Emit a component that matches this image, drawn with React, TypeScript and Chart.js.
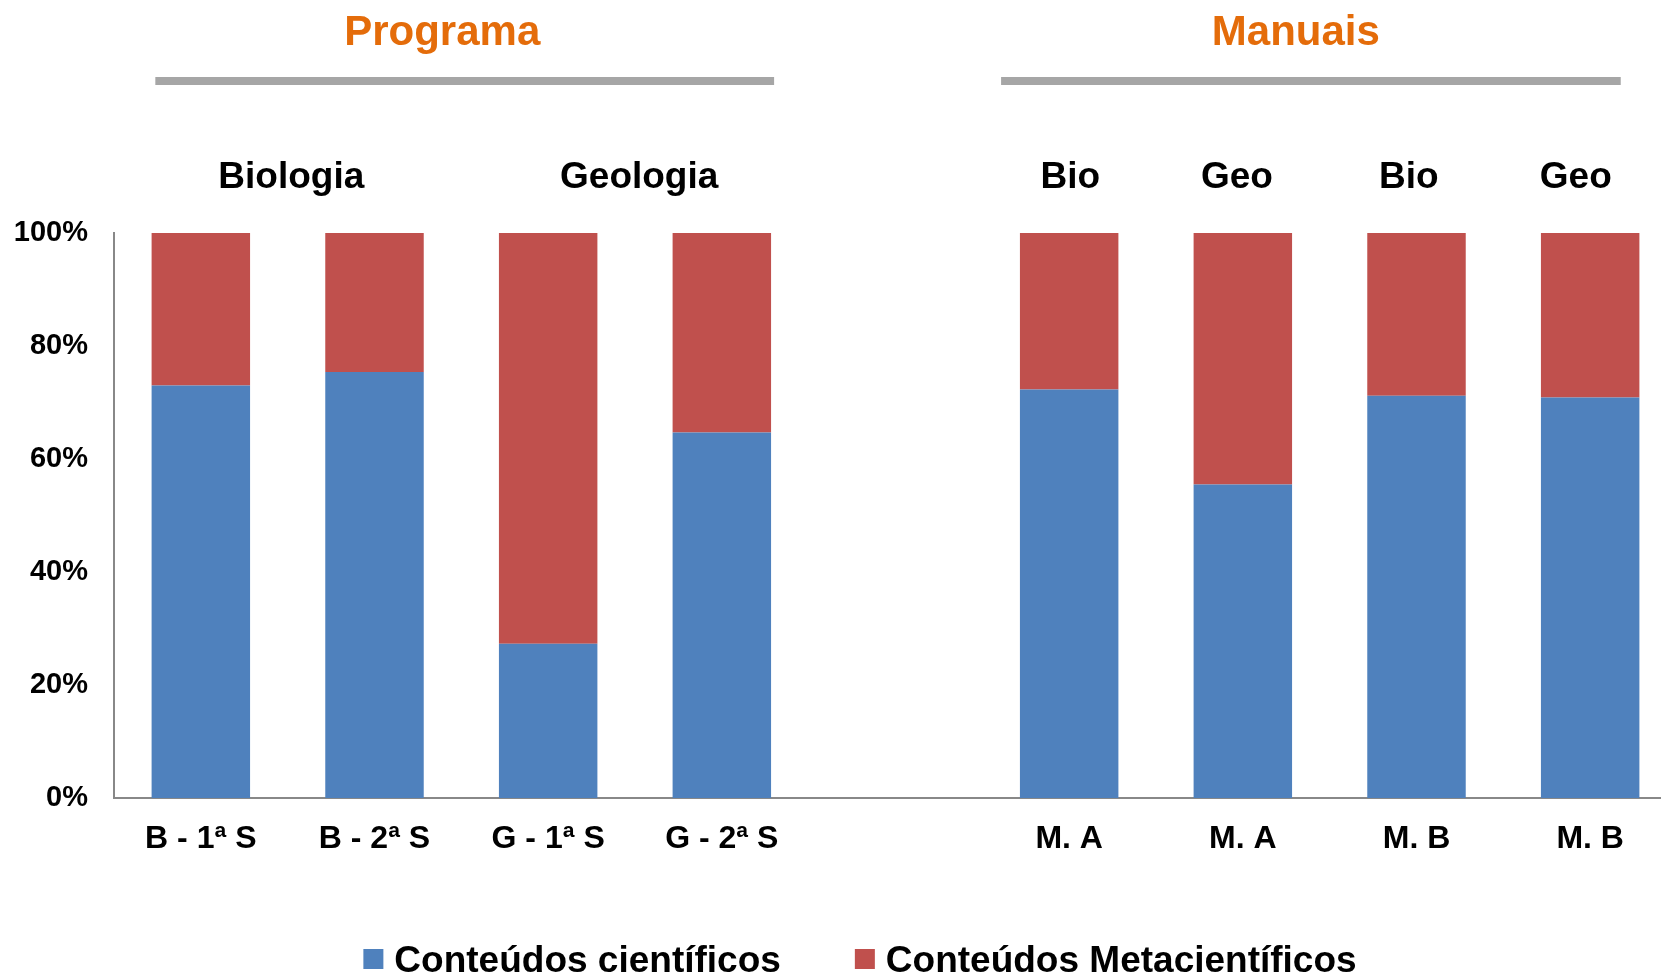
import React, { useEffect, useRef } from "react";
import { Chart, registerables } from "chart.js";

Chart.register(...registerables);

const categories = ["B - 1ª S", "B - 2ª S", "G - 1ª S", "G - 2ª S", "", "M. A", "M. A", "M. B", "M. B"];
const cientificos = [73.0, 75.4, 27.3, 64.7, null, 72.3, 55.5, 71.2, 70.9];
const metacientificos = [27.0, 24.6, 72.7, 35.3, null, 27.7, 44.5, 28.8, 29.1];
const yMin = 0;
const yMax = 100;
const yStep = 20;
const seriesNames = ["Conteúdos científicos", "Conteúdos Metacientíficos"];
const seriesColors = ["#4F81BD", "#C0504D"];
const sectionTitles = ["Programa", "Manuais"];
const groupLabels = ["Biologia", "Geologia", "Bio", "Geo", "Bio", "Geo"];

const FONT = "'Liberation Sans', Arial, sans-serif";

const headerPlugin = {
  id: "headers",
  afterDraw(chart: any) {
    const { ctx, chartArea } = chart;
    const n = categories.length;
    const cw = (chartArea.right - chartArea.left) / n;
    const px = (idx: number) => chartArea.left + (idx + 0.5) * cw;
    ctx.save();
    ctx.fillStyle = "#E46C0A";
    ctx.font = `bold 42px ${FONT}`;
    ctx.textAlign = "center";
    ctx.textBaseline = "alphabetic";
    const titleAnchors = [1.39, 6.305];
    sectionTitles.forEach((t, i) => ctx.fillText(t, px(titleAnchors[i]), 45));
    ctx.fillStyle = "#A6A6A6";
    const ruleAnchors = [[-0.262, 3.301], [4.608, 8.176]];
    ruleAnchors.forEach(([a, b]) => ctx.fillRect(px(a), 77, px(b) - px(a), 8));
    ctx.fillStyle = "#000";
    ctx.font = `bold 37px ${FONT}`;
    const groupAnchors = [0.521, 2.524, 5.007, 5.966, 6.956, 7.917];
    groupLabels.forEach((t, i) => ctx.fillText(t, px(groupAnchors[i]), 188));
    ctx.restore();
  },
};

const legendPlugin = {
  id: "bottomLegend",
  afterDraw(chart: any) {
    const { ctx } = chart;
    const ds = chart.data.datasets;
    const box = 20;
    const textGap = 11;
    const itemGap = 74;
    const baseline = 972;
    const boxTop = 949;
    ctx.save();
    ctx.font = `bold 37px ${FONT}`;
    ctx.textAlign = "left";
    ctx.textBaseline = "alphabetic";
    const widths = ds.map((d: any) => box + textGap + ctx.measureText(d.label).width);
    const total = widths.reduce((a: number, b: number) => a + b, 0) + itemGap * (ds.length - 1);
    let x = 860 - total / 2;
    ds.forEach((d: any, i: number) => {
      ctx.fillStyle = d.backgroundColor;
      ctx.fillRect(x, boxTop, box, box);
      ctx.fillStyle = "#000";
      ctx.fillText(d.label, x + box + textGap, baseline);
      x += widths[i] + itemGap;
    });
    ctx.restore();
  },
};

export default function App() {
  const ref = useRef<HTMLCanvasElement>(null);
  useEffect(() => {
    if (!ref.current) return;
    const chart = new Chart(ref.current, {
      type: "bar",
      data: {
        labels: categories,
        datasets: [
          { label: seriesNames[0], data: cientificos as any, backgroundColor: seriesColors[0], borderWidth: 0 },
          { label: seriesNames[1], data: metacientificos as any, backgroundColor: seriesColors[1], borderWidth: 0 },
        ],
      },
      options: {
        animation: false,
        responsive: false,
        maintainAspectRatio: false,
        datasets: { bar: { categoryPercentage: 1, barPercentage: 0.567 } },
        layout: { padding: { top: 233, left: 0, right: 23, bottom: 107 } },
        plugins: {
          tooltip: { enabled: false },
          legend: { display: false },
        },
        scales: {
          x: {
            stacked: true,
            grid: { display: false, drawTicks: false },
            border: { display: true, color: "#888888", width: 2 },
            ticks: {
              color: "#000",
              padding: 22,
              maxRotation: 0,
              autoSkip: false,
              font: { family: FONT, size: 32, weight: "bold" },
            },
            afterFit: (s: any) => { s.height = 70; },
          },
          y: {
            stacked: true,
            min: yMin,
            max: yMax,
            grid: { display: false, drawTicks: false },
            border: { display: true, color: "#888888", width: 2 },
            ticks: {
              stepSize: yStep,
              color: "#000",
              padding: 26,
              font: { family: FONT, size: 29, weight: "bold" },
              callback: (v: any) => `${v}%`,
            },
            afterFit: (s: any) => { s.width = 114; },
          },
        },
      },
      plugins: [headerPlugin, legendPlugin],
    });
    return () => chart.destroy();
  }, []);
  return (
    <div style={{ position: "absolute", left: 0, top: 0, width: 1661, height: 975, overflow: "hidden", background: "#fff" }}>
      <canvas ref={ref} width={1700} height={975} style={{ display: "block", width: 1700, height: 975 }} />
    </div>
  );
}
